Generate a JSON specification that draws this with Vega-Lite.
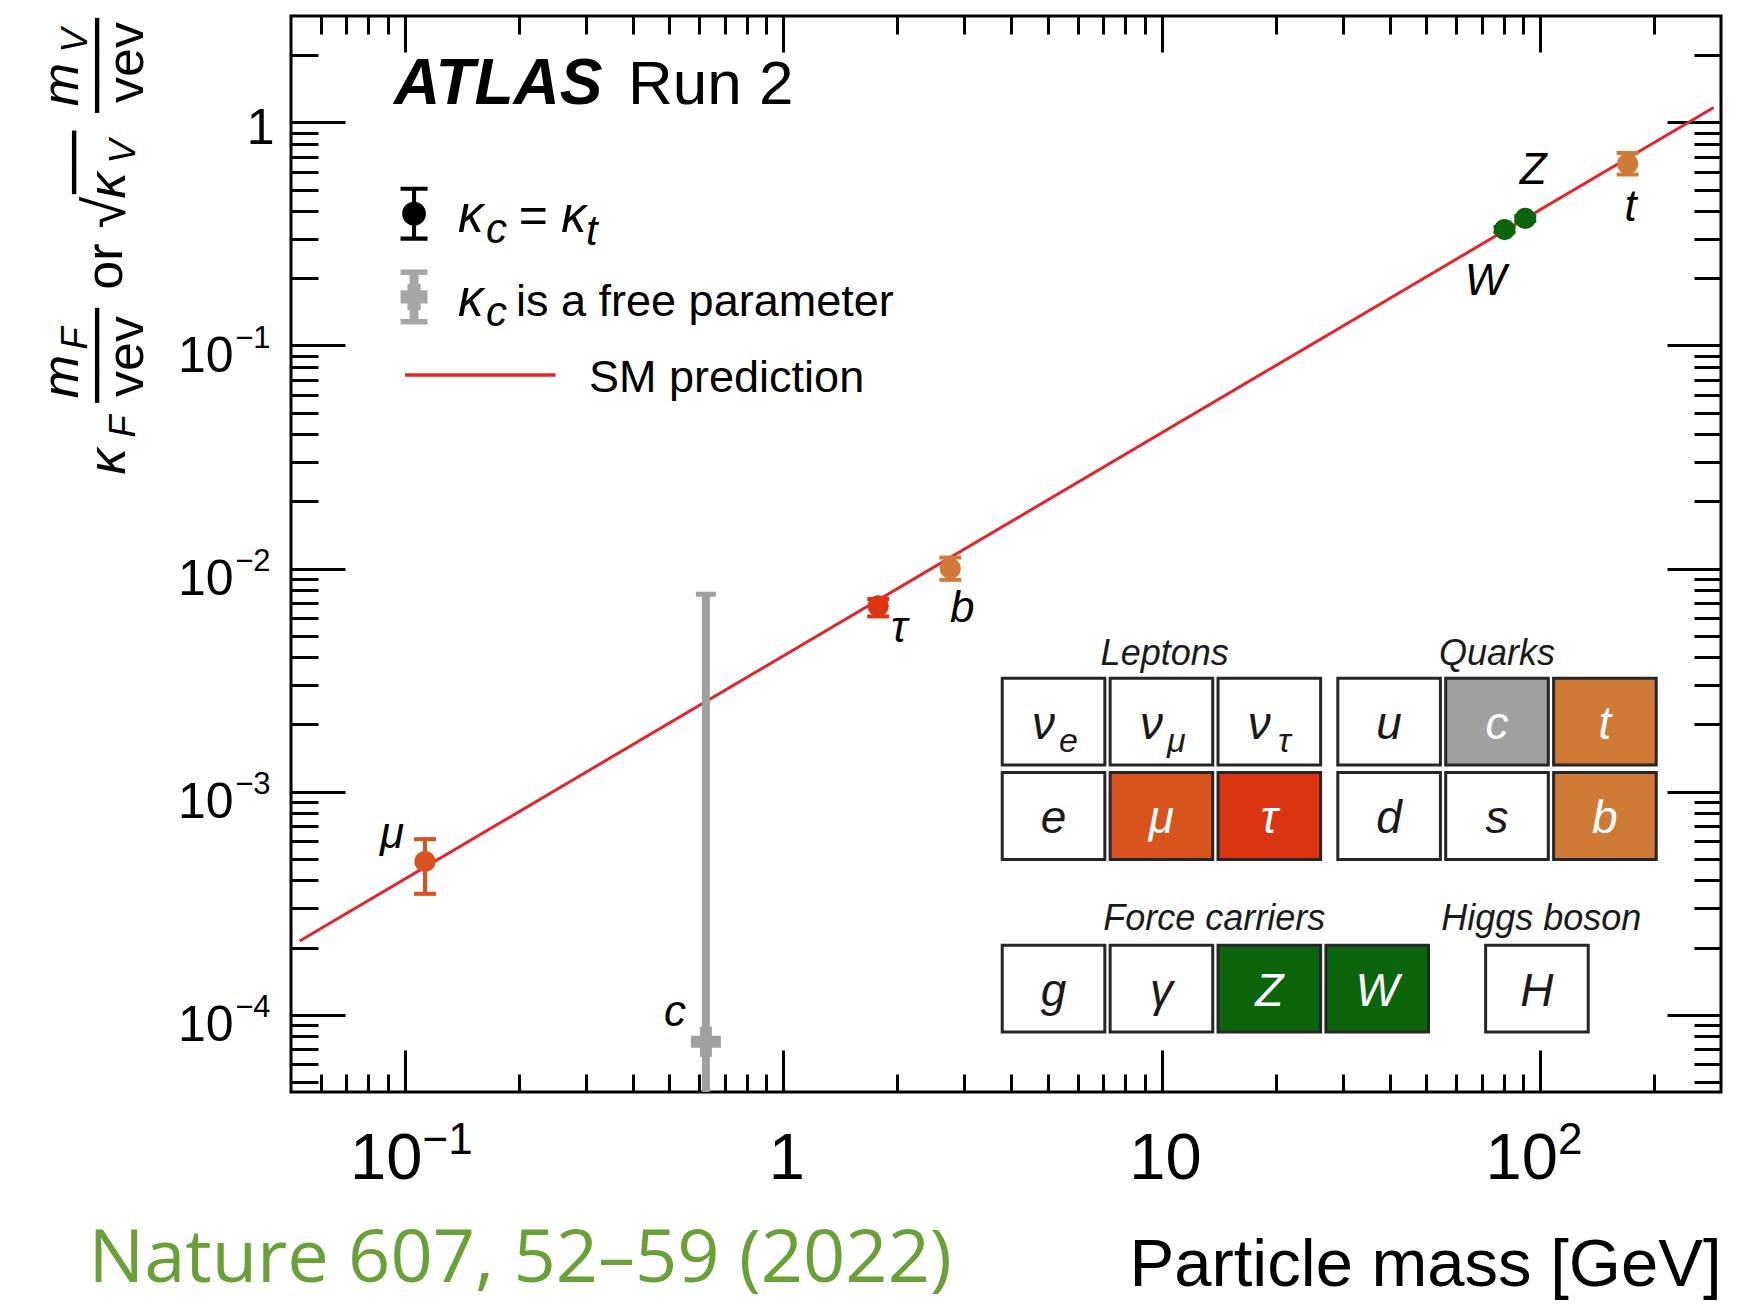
{
  "$schema": "https://vega.github.io/schema/vega-lite/v6.json",
  "width": 1430,
  "height": 1076,
  "autosize": {"type": "none"},
  "padding": {"left": 291, "top": 16, "right": 32, "bottom": 214},
  "background": "white",
  "config": {
    "font": "Liberation Sans",
    "view": {"stroke": "black", "strokeWidth": 3},
    "axis": {
      "grid": false, "domain": false, "ticks": false, "labels": false,
      "labelFlush": false, "labelOverlap": false, "labelColor": "black", "labelFont": "Liberation Sans",
      "tickColor": "black", "tickWidth": 3, "tickCap": "butt",
      "titleColor": "black", "titleFont": "Liberation Sans", "titleFontSize": 52, "titleFontStyle": "italic",
      "titleFontWeight": "normal", "titleAlign": "center", "titleBaseline": "alphabetic", "titlePadding": 0
    },
    "text": {"font": "Liberation Sans", "color": "black"}
  },
  "datasets": {
    "sm": [{"m": 0.0527, "y": 0.000214}, {"m": 287, "y": 1.167}],
    "pts": [
      {"name": "μ", "m": 0.113, "v": 0.000486, "lo": 0.000348, "hi": 0.000612, "kind": "mu", "fit": "kc=kt"},
      {"name": "τ", "m": 1.78, "v": 0.0068, "lo": 0.0061, "hi": 0.0073, "kind": "tau", "fit": "kc=kt"},
      {"name": "b", "m": 2.76, "v": 0.01, "lo": 0.0089, "hi": 0.0112, "kind": "tb", "fit": "kc=kt"},
      {"name": "W", "m": 80.4, "v": 0.331, "lo": 0.322, "hi": 0.34, "kind": "v", "fit": "kc=kt"},
      {"name": "Z", "m": 91.2, "v": 0.371, "lo": 0.362, "hi": 0.38, "kind": "v", "fit": "kc=kt"},
      {"name": "t", "m": 170, "v": 0.653, "lo": 0.584, "hi": 0.73, "kind": "tb", "fit": "kc=kt"},
      {"name": "c", "m": 0.624, "v": 0.0000756, "lo": 0.00004, "hi": 0.00767, "kind": "c", "fit": "kc free"}
    ],
    "cells": [
      {"sym": "ν", "sub": "e", "col": 0, "row": 0, "kind": "none"},
      {"sym": "ν", "sub": "μ", "col": 1, "row": 0, "kind": "none"},
      {"sym": "ν", "sub": "τ", "col": 2, "row": 0, "kind": "none"},
      {"sym": "e", "sub": "", "col": 0, "row": 1, "kind": "none"},
      {"sym": "μ", "sub": "", "col": 1, "row": 1, "kind": "mu"},
      {"sym": "τ", "sub": "", "col": 2, "row": 1, "kind": "tau"},
      {"sym": "u", "sub": "", "col": 3.11, "row": 0, "kind": "none"},
      {"sym": "c", "sub": "", "col": 4.11, "row": 0, "kind": "c"},
      {"sym": "t", "sub": "", "col": 5.11, "row": 0, "kind": "tb"},
      {"sym": "d", "sub": "", "col": 3.11, "row": 1, "kind": "none"},
      {"sym": "s", "sub": "", "col": 4.11, "row": 1, "kind": "none"},
      {"sym": "b", "sub": "", "col": 5.11, "row": 1, "kind": "tb"},
      {"sym": "g", "sub": "", "col": 0, "row": 2.83, "kind": "none"},
      {"sym": "γ", "sub": "", "col": 1, "row": 2.83, "kind": "none"},
      {"sym": "Z", "sub": "", "col": 2, "row": 2.83, "kind": "v"},
      {"sym": "W", "sub": "", "col": 3, "row": 2.83, "kind": "v"},
      {"sym": "H", "sub": "", "col": 4.48, "row": 2.83, "kind": "none"}
    ],
    "groups": [
      {"name": "Leptons", "col": 1.03, "row": -0.72},
      {"name": "Quarks", "col": 4.11, "row": -0.72},
      {"name": "Force carriers", "col": 1.49, "row": 2.09},
      {"name": "Higgs boson", "col": 4.52, "row": 2.09}
    ]
  },
  "resolve": {"scale": {"x": "independent", "y": "independent"}},
  "layer": [
    {
      "resolve": {"axis": {"x": "independent", "y": "independent"}},
      "layer": [
        {
          "data": {"name": "sm"},
          "mark": {"type": "line", "color": "#e3262e", "strokeWidth": 3, "clip": true},
          "encoding": {
            "x": {"field": "m", "type": "quantitative", "scale": {"type": "log", "domain": [0.05, 300], "nice": false},
              "axis": {"orient": "bottom", "values": [0.1, 1, 10, 100], "labels": true,
                "labelExpr": "datum.value == 1 ? '1' : '10'", "labelFontSize": 65, "labelBaseline": "alphabetic", "labelPadding": 86,
                "labelAlign": {"condition": {"test": "datum.value == 1 || datum.value == 10", "value": "center"}, "value": "right"},
                "labelOffset": {"condition": {"test": "datum.value == 1 || datum.value == 10", "value": 3}, "value": 17},
                "title": "Particle mass [GeV]", "titleFontSize": 67, "titleFontStyle": "normal",
                "titleAlign": "right", "titleX": 1430, "titleY": 193}},
            "y": {"field": "y", "type": "quantitative", "scale": {"type": "log", "domain": [0.000045, 3], "nice": false},
              "axis": {"orient": "left", "values": [0.0001, 0.001, 0.01, 0.1, 1], "labels": true,
                "labelExpr": "datum.value == 1 ? '1' : '10'", "labelFontSize": 50, "labelAlign": "right", "labelBaseline": "alphabetic",
                "labelPadding": {"condition": {"test": "datum.value == 1", "value": 17}, "value": 58},
                "labelOffset": {"condition": {"test": "datum.value == 1", "value": 21}, "value": 26},
                "title": "κ", "titleAngle": 270, "titleX": -167, "titleY": 445}}
          }
        },
        {
          "data": {"name": "pts"},
          "transform": [{"filter": "datum.fit == 'kc free'"}],
          "mark": {"type": "rule", "strokeWidth": 8, "clip": true},
          "encoding": {
            "x": {"field": "m", "type": "quantitative", "scale": {"type": "log", "domain": [0.05, 300], "nice": false},
              "axis": {"orient": "bottom", "title": "───", "titleFont": "DejaVu Sans", "titleFontStyle": "normal", "titleBaseline": "middle", "titleAngle": 270, "titleX": -193, "titleY": -737}},
            "y": {"field": "lo", "type": "quantitative", "scale": {"type": "log", "domain": [0.000045, 3], "nice": false},
              "axis": {"orient": "left", "title": "vev", "titleFontStyle": "normal", "titleAngle": 270, "titleX": -149, "titleY": 340}},
            "y2": {"field": "hi"},
            "color": {"field": "kind", "type": "nominal", "scale": {"domain": ["mu", "tau", "tb", "c", "v", "none"], "range": ["#d9531e", "#db3412", "#cf7a37", "#a0a0a0", "#0c640c", "#ffffff"]}, "legend": null}
          }
        },
        {
          "data": {"name": "pts"},
          "transform": [{"filter": "datum.fit == 'kc free'"}],
          "mark": {"type": "point", "shape": "stroke", "filled": false, "size": 400, "strokeWidth": 5, "opacity": 1},
          "encoding": {
            "x": {"field": "m", "type": "quantitative", "scale": {"type": "log", "domain": [0.05, 300], "nice": false},
              "axis": {"orient": "bottom", "title": "or", "titleFontStyle": "normal", "titleAngle": 270, "titleX": -170, "titleY": -826}},
            "y": {"field": "hi", "type": "quantitative", "scale": {"type": "log", "domain": [0.000045, 3], "nice": false},
              "axis": {"orient": "left", "title": "√", "titleFontStyle": "normal", "titleFontSize": 58, "titleAngle": 270, "titleX": -167, "titleY": 196}},
            "color": {"field": "kind", "type": "nominal", "legend": null}
          }
        },
        {
          "data": {"name": "pts"},
          "transform": [{"filter": "datum.fit == 'kc free'"}],
          "mark": {"type": "point", "shape": "cross", "filled": true, "size": 900, "opacity": 1},
          "encoding": {
            "x": {"field": "m", "type": "quantitative", "scale": {"type": "log", "domain": [0.05, 300], "nice": false},
              "axis": {"orient": "bottom", "title": "V", "titleFontSize": 36, "titleAngle": 270, "titleX": -157, "titleY": -941}},
            "y": {"field": "v", "type": "quantitative", "scale": {"type": "log", "domain": [0.000045, 3], "nice": false},
              "axis": {"orient": "left", "title": "m", "titleAngle": 270, "titleX": -214, "titleY": 68}},
            "color": {"field": "kind", "type": "nominal", "legend": null}
          }
        },
        {
          "data": {"name": "pts"},
          "transform": [{"filter": "datum.fit == 'kc=kt'"}],
          "mark": {"type": "rule", "strokeWidth": 4},
          "encoding": {
            "x": {"field": "m", "type": "quantitative", "scale": {"type": "log", "domain": [0.05, 300], "nice": false},
              "axis": {"orient": "bottom", "values": [0.1, 100], "labels": true,
                "labelExpr": "datum.value == 100 ? '2' : '−1'", "labelFontSize": 44, "labelBaseline": "alphabetic",
                "labelPadding": 61, "labelAlign": "left", "labelOffset": 17, "title": null}},
            "y": {"field": "lo", "type": "quantitative", "scale": {"type": "log", "domain": [0.000045, 3], "nice": false},
              "axis": {"orient": "left", "values": [0.0001, 0.001, 0.01, 0.1], "labels": true,
                "labelExpr": "datum.value == 0.1 ? '−1' : datum.value == 0.01 ? '−2' : datum.value == 0.001 ? '−3' : '−4'",
                "labelFontSize": 31, "labelAlign": "right", "labelBaseline": "alphabetic", "labelPadding": 21, "labelOffset": 2,
                "title": "F", "titleFontSize": 36, "titleAngle": 270, "titleX": -157, "titleY": 410}},
            "y2": {"field": "hi"},
            "color": {"field": "kind", "type": "nominal", "legend": null}
          }
        },
        {
          "data": {"name": "pts"},
          "transform": [{"filter": "datum.fit == 'kc=kt'"}],
          "mark": {"type": "point", "shape": "stroke", "filled": false, "size": 484, "strokeWidth": 4, "opacity": 1},
          "encoding": {
            "x": {"field": "m", "type": "quantitative", "scale": {"type": "log", "domain": [0.05, 300], "nice": false},
              "axis": {"orient": "bottom", "ticks": true, "title": null,
                "values": [0.06, 0.07, 0.08, 0.09, 0.1, 0.2, 0.3, 0.4, 0.5, 0.6, 0.7, 0.8, 0.9, 1, 2, 3, 4, 5, 6, 7, 8, 9, 10, 20, 30, 40, 50, 60, 70, 80, 90, 100, 200],
                "tickSize": {"condition": {"test": "indexof([0.1, 1, 10, 100], datum.value) >= 0", "value": -42}, "value": -18}}},
            "y": {"field": "hi", "type": "quantitative", "scale": {"type": "log", "domain": [0.000045, 3], "nice": false},
              "axis": {"orient": "left", "ticks": true,
                "values": [0.00005, 0.00006, 0.00007, 0.00008, 0.00009, 0.0001, 0.0002, 0.0003, 0.0004, 0.0005, 0.0006, 0.0007, 0.0008, 0.0009, 0.001, 0.002, 0.003, 0.004, 0.005, 0.006, 0.007, 0.008, 0.009, 0.01, 0.02, 0.03, 0.04, 0.05, 0.06, 0.07, 0.08, 0.09, 0.1, 0.2, 0.3, 0.4, 0.5, 0.6, 0.7, 0.8, 0.9, 1, 2],
                "tickSize": {"condition": {"test": "indexof([0.0001, 0.001, 0.01, 0.1, 1], datum.value) >= 0", "value": -54}, "value": -27},
                "title": "m", "titleAngle": 270, "titleX": -214, "titleY": 360}},
            "color": {"field": "kind", "type": "nominal", "legend": null}
          }
        },
        {
          "data": {"name": "pts"},
          "transform": [{"filter": "datum.fit == 'kc=kt'"}],
          "mark": {"type": "point", "shape": "stroke", "filled": false, "size": 484, "strokeWidth": 4, "opacity": 1},
          "encoding": {
            "x": {"field": "m", "type": "quantitative", "scale": {"type": "log", "domain": [0.05, 300], "nice": false},
              "axis": {"orient": "top", "ticks": true, "title": null,
                "values": [0.06, 0.07, 0.08, 0.09, 0.1, 0.2, 0.3, 0.4, 0.5, 0.6, 0.7, 0.8, 0.9, 1, 2, 3, 4, 5, 6, 7, 8, 9, 10, 20, 30, 40, 50, 60, 70, 80, 90, 100, 200],
                "tickSize": {"condition": {"test": "indexof([0.1, 1, 10, 100], datum.value) >= 0", "value": -36}, "value": -18}}},
            "y": {"field": "lo", "type": "quantitative", "scale": {"type": "log", "domain": [0.000045, 3], "nice": false},
              "axis": {"orient": "right", "ticks": true,
                "values": [0.00005, 0.00006, 0.00007, 0.00008, 0.00009, 0.0001, 0.0002, 0.0003, 0.0004, 0.0005, 0.0006, 0.0007, 0.0008, 0.0009, 0.001, 0.002, 0.003, 0.004, 0.005, 0.006, 0.007, 0.008, 0.009, 0.01, 0.02, 0.03, 0.04, 0.05, 0.06, 0.07, 0.08, 0.09, 0.1, 0.2, 0.3, 0.4, 0.5, 0.6, 0.7, 0.8, 0.9, 1, 2],
                "tickSize": {"condition": {"test": "indexof([0.0001, 0.001, 0.01, 0.1, 1], datum.value) >= 0", "value": -54}, "value": -27},
                "title": "F", "titleFontSize": 36, "titleAngle": 270, "titleX": -1635, "titleY": 322}},
            "color": {"field": "kind", "type": "nominal", "legend": null}
          }
        },
        {
          "data": {"name": "pts"},
          "transform": [{"filter": "datum.fit == 'kc=kt'"}],
          "mark": {"type": "point", "shape": "circle", "filled": true, "size": 450, "opacity": 1},
          "encoding": {
            "x": {"field": "m", "type": "quantitative", "scale": {"type": "log", "domain": [0.05, 300], "nice": false},
              "axis": {"orient": "bottom", "title": "──", "titleFont": "DejaVu Sans", "titleFontStyle": "normal", "titleBaseline": "middle", "titleAngle": 270, "titleX": -216, "titleY": -930}},
            "y": {"field": "v", "type": "quantitative", "scale": {"type": "log", "domain": [0.000045, 3], "nice": false},
              "axis": {"orient": "left", "title": "κ", "titleAngle": 270, "titleX": -167, "titleY": 169}},
            "color": {"field": "kind", "type": "nominal", "legend": null}
          }
        },
        {
          "data": {"name": "pts"},
          "transform": [{"filter": "datum.name == 'μ'"}],
          "mark": {"type": "text", "fontSize": 44, "fontStyle": "italic", "dx": -33, "dy": -26},
          "encoding": {
            "x": {"field": "m", "type": "quantitative", "scale": {"type": "log", "domain": [0.05, 300], "nice": false},
              "axis": {"orient": "bottom", "title": "V", "titleFontSize": 36, "titleAngle": 270, "titleX": -205, "titleY": -1052}},
            "y": {"field": "v", "type": "quantitative", "scale": {"type": "log", "domain": [0.000045, 3], "nice": false},
              "axis": {"orient": "left", "title": "───", "titleFont": "DejaVu Sans", "titleFontStyle": "normal", "titleBaseline": "middle", "titleAngle": 270, "titleX": -193, "titleY": 49}},
            "text": {"field": "name"}
          }
        },
        {
          "data": {"name": "pts"},
          "transform": [{"filter": "datum.name == 'c'"}],
          "mark": {"type": "text", "fontSize": 44, "fontStyle": "italic", "dx": -31, "dy": -29},
          "encoding": {
            "x": {"field": "m", "type": "quantitative", "scale": {"type": "log", "domain": [0.05, 300], "nice": false},
              "axis": {"orient": "bottom", "title": "vev", "titleFontStyle": "normal", "titleAngle": 270, "titleX": -149, "titleY": -1030}},
            "y": {"field": "v", "type": "quantitative", "scale": {"type": "log", "domain": [0.000045, 3], "nice": false}, "axis": null},
            "text": {"field": "name"}
          }
        },
        {
          "data": {"name": "pts"},
          "transform": [{"filter": "datum.name == 'τ'"}],
          "mark": {"type": "text", "fontSize": 44, "fontStyle": "italic", "dx": 21, "dy": 23},
          "encoding": {
            "x": {"field": "m", "type": "quantitative", "scale": {"type": "log", "domain": [0.05, 300], "nice": false},
              "axis": {"orient": "bottom", "title": "Nature 607, 52–59 (2022)", "titleFont": "Open Sans", "titleFontSize": 74,
                "titleFontStyle": "normal", "titleColor": "#6b9f38", "titleAlign": "left", "titleX": -203, "titleY": 189}},
            "y": {"field": "v", "type": "quantitative", "scale": {"type": "log", "domain": [0.000045, 3], "nice": false}, "axis": null},
            "text": {"field": "name"}
          }
        },
        {
          "data": {"name": "pts"},
          "transform": [{"filter": "datum.name == 'b'"}],
          "mark": {"type": "text", "fontSize": 44, "fontStyle": "italic", "dx": 12, "dy": 40},
          "encoding": {
            "x": {"field": "m", "type": "quantitative", "scale": {"type": "log", "domain": [0.05, 300], "nice": false}, "axis": null},
            "y": {"field": "v", "type": "quantitative", "scale": {"type": "log", "domain": [0.000045, 3], "nice": false}, "axis": null},
            "text": {"field": "name"}
          }
        },
        {
          "data": {"name": "pts"},
          "transform": [{"filter": "datum.name == 'W'"}],
          "mark": {"type": "text", "fontSize": 44, "fontStyle": "italic", "dx": -19, "dy": 52},
          "encoding": {
            "x": {"field": "m", "type": "quantitative", "scale": {"type": "log", "domain": [0.05, 300], "nice": false}, "axis": null},
            "y": {"field": "v", "type": "quantitative", "scale": {"type": "log", "domain": [0.000045, 3], "nice": false}, "axis": null},
            "text": {"field": "name"}
          }
        },
        {
          "data": {"name": "pts"},
          "transform": [{"filter": "datum.name == 'Z'"}],
          "mark": {"type": "text", "fontSize": 44, "fontStyle": "italic", "dx": 8, "dy": -47},
          "encoding": {
            "x": {"field": "m", "type": "quantitative", "scale": {"type": "log", "domain": [0.05, 300], "nice": false}, "axis": null},
            "y": {"field": "v", "type": "quantitative", "scale": {"type": "log", "domain": [0.000045, 3], "nice": false}, "axis": null},
            "text": {"field": "name"}
          }
        },
        {
          "data": {"name": "pts"},
          "transform": [{"filter": "datum.name == 't'"}],
          "mark": {"type": "text", "fontSize": 44, "fontStyle": "italic", "dx": 3, "dy": 44},
          "encoding": {
            "x": {"field": "m", "type": "quantitative", "scale": {"type": "log", "domain": [0.05, 300], "nice": false}, "axis": null},
            "y": {"field": "v", "type": "quantitative", "scale": {"type": "log", "domain": [0.000045, 3], "nice": false}, "axis": null},
            "text": {"field": "name"}
          }
        },
        {
          "data": {"values": [{}]},
          "mark": {"type": "point", "shape": "M-0.5,-1H0.5V-0.85H-0.5Z M-0.5,0.85H0.5V1H-0.5Z M-0.075,-0.85H0.075V0.85H-0.075Z M0.44,0A0.44,0.44,0,1,1,-0.44,0A0.44,0.44,0,1,1,0.44,0Z",
            "filled": true, "size": 2916, "color": "black", "opacity": 1},
          "encoding": {"x": {"datum": 0.1057, "type": "quantitative", "axis": null}, "y": {"datum": 0.39, "type": "quantitative", "axis": null}}
        },
        {
          "data": {"values": [{}]},
          "mark": {"type": "point", "shape": "M-0.49,-1H0.49V-0.8H-0.49Z M-0.49,0.8H0.49V1H-0.49Z M-0.16,-0.8H0.16V0.8H-0.16Z M-0.49,-0.24H0.49V0.24H-0.49Z M-0.24,-0.48H0.24V0.48H-0.24Z",
            "filled": true, "size": 3025, "color": "#a6a6a6", "opacity": 1},
          "encoding": {"x": {"datum": 0.1057, "type": "quantitative", "axis": null}, "y": {"datum": 0.165, "type": "quantitative", "axis": null}}
        },
        {
          "data": {"values": [{}]},
          "mark": {"type": "rule", "color": "#e3262e", "strokeWidth": 3.5},
          "encoding": {"x": {"datum": 0.1, "type": "quantitative", "axis": null}, "x2": {"datum": 0.25}, "y": {"datum": 0.0737, "type": "quantitative", "axis": null}}
        },
        {
          "data": {"values": [{}]},
          "mark": {"type": "text", "text": "κ", "fontSize": 51, "fontStyle": "italic", "align": "left", "baseline": "alphabetic", "dx": 44, "dy": 18},
          "encoding": {"x": {"datum": 0.1057, "type": "quantitative", "axis": null}, "y": {"datum": 0.39, "type": "quantitative", "axis": null}}
        },
        {
          "data": {"values": [{}]},
          "mark": {"type": "text", "text": "c", "fontSize": 42, "fontStyle": "italic", "align": "left", "baseline": "alphabetic", "dx": 72, "dy": 29},
          "encoding": {"x": {"datum": 0.1057, "type": "quantitative", "axis": null}, "y": {"datum": 0.39, "type": "quantitative", "axis": null}}
        },
        {
          "data": {"values": [{}]},
          "mark": {"type": "text", "text": "= κ", "fontSize": 50, "fontStyle": "italic", "align": "left", "baseline": "alphabetic", "dx": 104, "dy": 18},
          "encoding": {"x": {"datum": 0.1057, "type": "quantitative", "axis": null}, "y": {"datum": 0.39, "type": "quantitative", "axis": null}}
        },
        {
          "data": {"values": [{}]},
          "mark": {"type": "text", "text": "t", "fontSize": 42, "fontStyle": "italic", "align": "left", "baseline": "alphabetic", "dx": 172, "dy": 31},
          "encoding": {"x": {"datum": 0.1057, "type": "quantitative", "axis": null}, "y": {"datum": 0.39, "type": "quantitative", "axis": null}}
        },
        {
          "data": {"values": [{}]},
          "mark": {"type": "text", "text": "κ", "fontSize": 51, "fontStyle": "italic", "align": "left", "baseline": "alphabetic", "dx": 44, "dy": 19},
          "encoding": {"x": {"datum": 0.1057, "type": "quantitative", "axis": null}, "y": {"datum": 0.165, "type": "quantitative", "axis": null}}
        },
        {
          "data": {"values": [{}]},
          "mark": {"type": "text", "text": "c", "fontSize": 42, "fontStyle": "italic", "align": "left", "baseline": "alphabetic", "dx": 72, "dy": 29},
          "encoding": {"x": {"datum": 0.1057, "type": "quantitative", "axis": null}, "y": {"datum": 0.165, "type": "quantitative", "axis": null}}
        },
        {
          "data": {"values": [{}]},
          "mark": {"type": "text", "text": "is a free parameter", "fontSize": 45, "align": "left", "baseline": "alphabetic", "dx": 102, "dy": 19},
          "encoding": {"x": {"datum": 0.1057, "type": "quantitative", "axis": null}, "y": {"datum": 0.165, "type": "quantitative", "axis": null}}
        },
        {
          "data": {"values": [{}]},
          "mark": {"type": "text", "text": "SM prediction", "fontSize": 45, "align": "left", "baseline": "alphabetic", "dx": 175, "dy": 17},
          "encoding": {"x": {"datum": 0.1057, "type": "quantitative", "axis": null}, "y": {"datum": 0.0737, "type": "quantitative", "axis": null}}
        },
        {
          "data": {"values": [{}]},
          "mark": {"type": "text", "text": "ATLAS", "fontSize": 64, "fontStyle": "italic", "fontWeight": "bold", "align": "left", "baseline": "alphabetic", "dx": -11, "dy": 21},
          "encoding": {"x": {"datum": 0.1, "type": "quantitative", "axis": null}, "y": {"datum": 1.5, "type": "quantitative", "axis": null}}
        },
        {
          "data": {"values": [{}]},
          "mark": {"type": "text", "text": "Run 2", "fontSize": 62, "align": "left", "baseline": "alphabetic", "dx": 223, "dy": 21},
          "encoding": {"x": {"datum": 0.1, "type": "quantitative", "axis": null}, "y": {"datum": 1.5, "type": "quantitative", "axis": null}}
        }
      ]
    },
    {
      "data": {"name": "cells"},
      "layer": [
        {
          "mark": {"type": "point", "shape": "M-1,-0.846H1V0.846H-1Z", "size": 10527, "filled": true, "opacity": 1, "stroke": "#262626", "strokeWidth": 3},
          "encoding": {
            "x": {"field": "col", "type": "quantitative", "scale": {"domain": [-7.067, 6.186], "nice": false, "zero": false}, "axis": null},
            "y": {"field": "row", "type": "quantitative", "scale": {"domain": [-7.484, 3.927], "nice": false, "zero": false, "reverse": true}, "axis": null},
            "color": {"field": "kind", "type": "nominal", "legend": null}
          }
        },
        {
          "transform": [{"filter": "datum.sub == ''"}],
          "mark": {"type": "text", "fontSize": 46, "fontStyle": "italic", "baseline": "middle", "dy": 3},
          "encoding": {
            "x": {"field": "col", "type": "quantitative", "axis": null},
            "y": {"field": "row", "type": "quantitative", "axis": null},
            "text": {"field": "sym"},
            "color": {"condition": {"test": "datum.kind == 'none'", "value": "#1a1a1a"}, "value": "white"}
          }
        },
        {
          "transform": [{"filter": "datum.sub != ''"}],
          "mark": {"type": "text", "fontSize": 46, "fontStyle": "italic", "baseline": "middle", "dx": -10, "dy": 3, "color": "#1a1a1a"},
          "encoding": {
            "x": {"field": "col", "type": "quantitative", "axis": null},
            "y": {"field": "row", "type": "quantitative", "axis": null},
            "text": {"field": "sym"}
          }
        },
        {
          "transform": [{"filter": "datum.sub != ''"}],
          "mark": {"type": "text", "fontSize": 34, "fontStyle": "italic", "baseline": "middle", "dx": 15, "dy": 20, "color": "#1a1a1a"},
          "encoding": {
            "x": {"field": "col", "type": "quantitative", "axis": null},
            "y": {"field": "row", "type": "quantitative", "axis": null},
            "text": {"field": "sub"}
          }
        },
        {
          "data": {"name": "groups"},
          "mark": {"type": "text", "fontSize": 36, "fontStyle": "italic", "baseline": "middle", "color": "#1a1a1a"},
          "encoding": {
            "x": {"field": "col", "type": "quantitative", "axis": null},
            "y": {"field": "row", "type": "quantitative", "axis": null},
            "text": {"field": "name"}
          }
        }
      ]
    }
  ]
}
